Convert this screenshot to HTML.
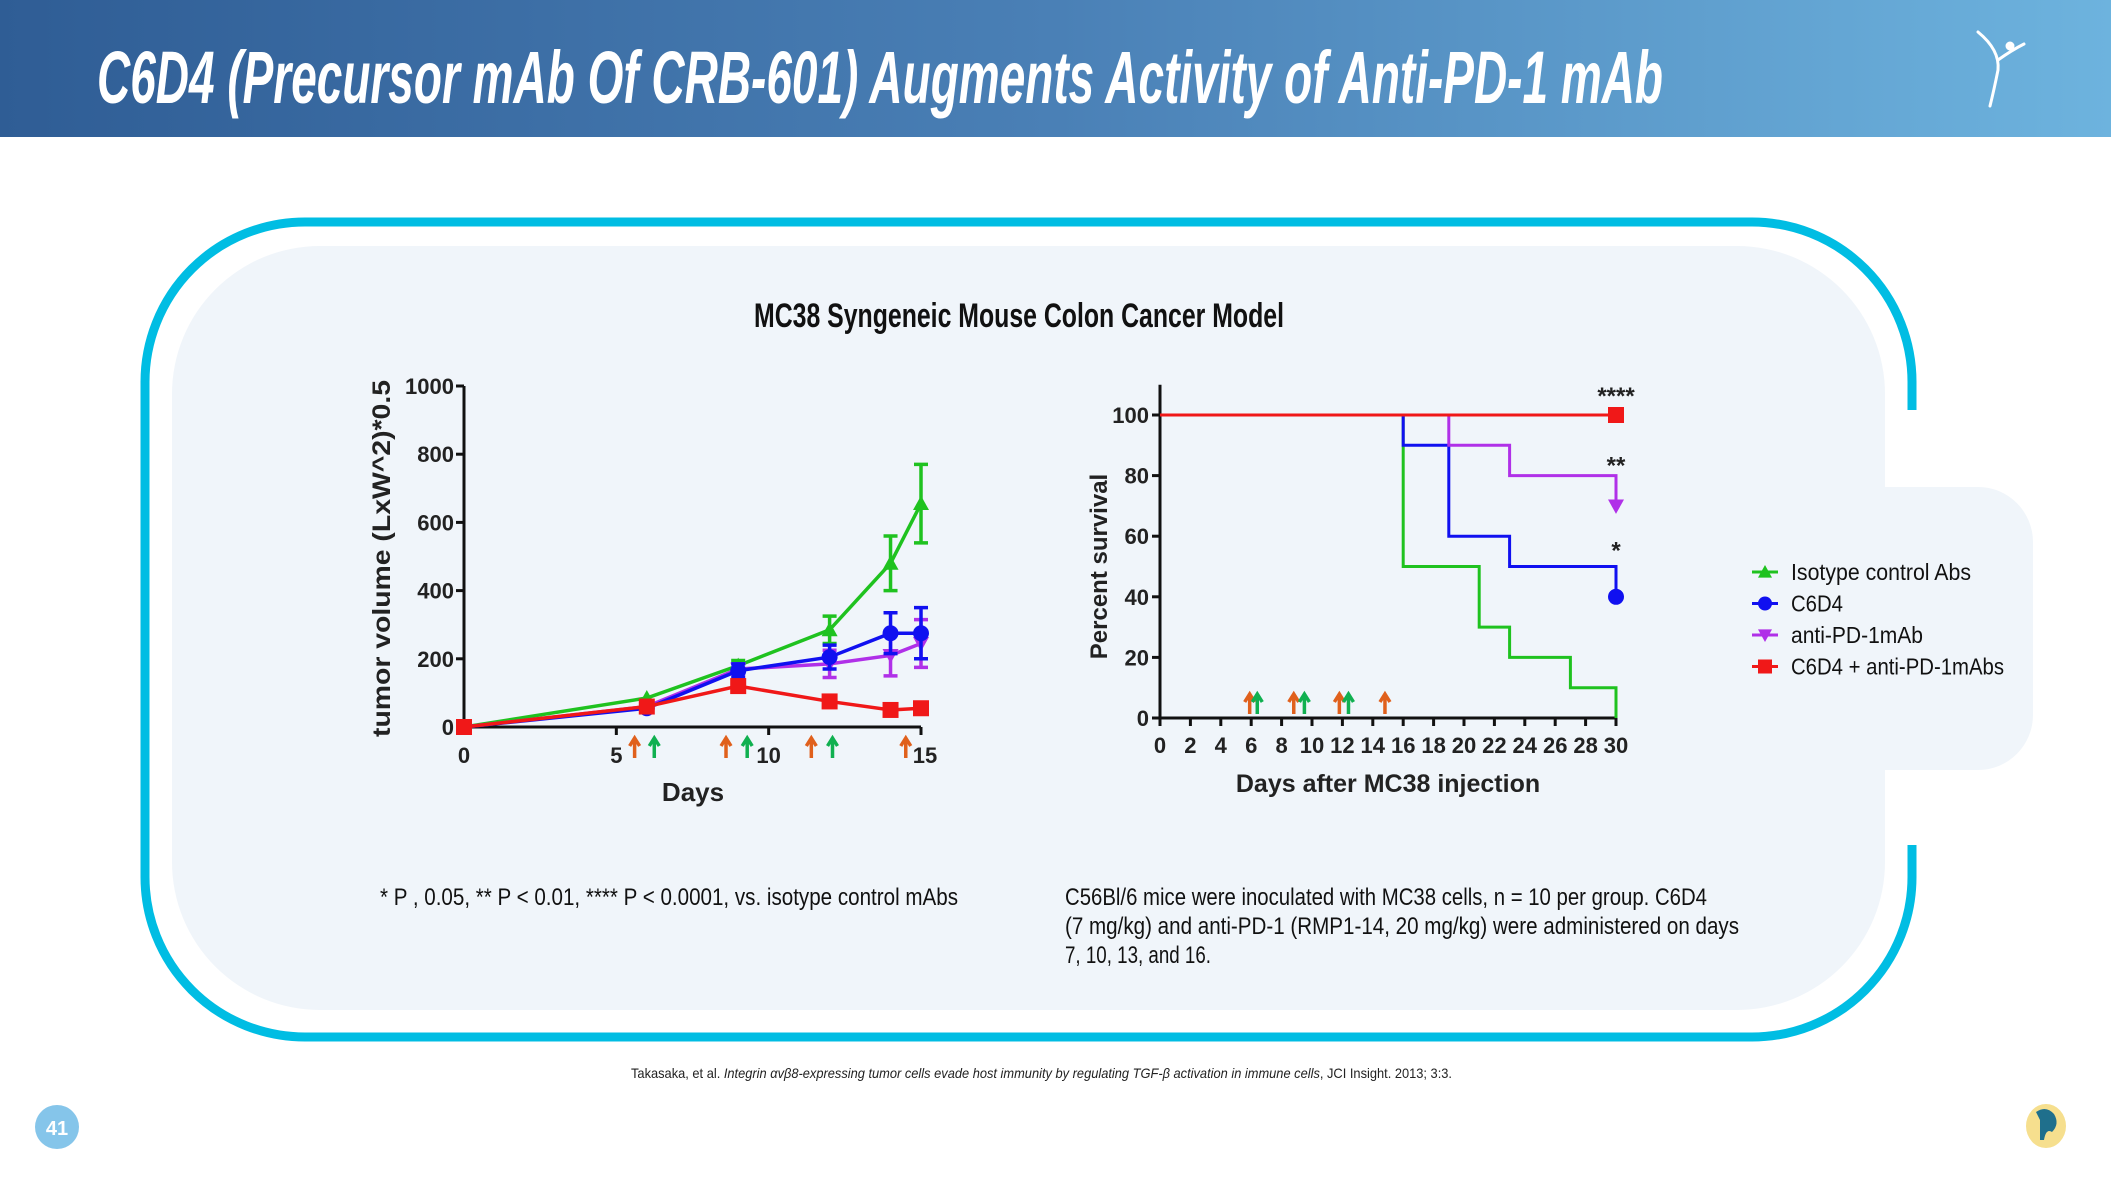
<!DOCTYPE html>
<html><head><meta charset="utf-8"><style>
html,body{margin:0;padding:0;background:#fff;}
svg{display:block;}
text{font-family:"Liberation Sans",sans-serif;}
</style></head><body>
<svg id="s" width="2111" height="1187" viewBox="0 0 2111 1187" xmlns="http://www.w3.org/2000/svg">
<defs>
<linearGradient id="hg" x1="0" x2="1" y1="0" y2="0"><stop offset="0" stop-color="#2f5d95"/><stop offset="0.5" stop-color="#4a80b6"/><stop offset="1" stop-color="#6db3de"/></linearGradient>
</defs>
<rect x="0" y="0" width="2111" height="137" fill="url(#hg)"/>
<text x="97" y="103" font-size="74" font-weight="bold" font-style="italic" fill="#fff" textLength="1566" lengthAdjust="spacingAndGlyphs">C6D4 (Precursor mAb Of CRB-601) Augments Activity of Anti-PD-1 mAb</text>
<g stroke="#fff" fill="none" stroke-width="3" stroke-linecap="round">
<path d="M1978 32 Q2000 50 1998 70 Q1994 90 1990 106"/><path d="M1998 60 Q2012 50 2024 44"/><circle cx="2010" cy="46" r="3" fill="#fff"/>
</g>
<!-- panel -->
<path d="M1912 845 V877 A160 160 0 0 1 1752 1037 H305 A160 160 0 0 1 145 877 V382 A160 160 0 0 1 305 222 H1752 A160 160 0 0 1 1912 382 V410" fill="none" stroke="#00bde3" stroke-width="9"/>
<path d="M320 246 H1737 A148 148 0 0 1 1885 394 V487 H1978 A55 55 0 0 1 2033 542 V715 A55 55 0 0 1 1978 770 H1885 V862 A148 148 0 0 1 1737 1010 H320 A148 148 0 0 1 172 862 V394 A148 148 0 0 1 320 246 Z" fill="#f0f5fa"/>
<text x="1019" y="327" font-size="34" font-weight="bold" text-anchor="middle" fill="#111" textLength="530" lengthAdjust="spacingAndGlyphs">MC38 Syngeneic Mouse Colon Cancer Model</text>
<g id="left"></g>
<g id="right"></g>
<g id="legend"></g>
<text x="380" y="905" font-size="24" fill="#111" textLength="578" lengthAdjust="spacingAndGlyphs">* P , 0.05, ** P &lt; 0.01, **** P &lt; 0.0001, vs. isotype control mAbs</text>
<g font-size="24" fill="#111">
<text x="1065" y="905" textLength="642" lengthAdjust="spacingAndGlyphs">C56Bl/6 mice were inoculated with MC38 cells, n = 10 per group. C6D4</text>
<text x="1065" y="934" textLength="674" lengthAdjust="spacingAndGlyphs">(7 mg/kg) and anti-PD-1 (RMP1-14, 20 mg/kg) were administered on days</text>
<text x="1065" y="963" textLength="146" lengthAdjust="spacingAndGlyphs">7, 10, 13, and 16.</text>
</g>
<text x="631" y="1078" font-size="14" fill="#222" textLength="821" lengthAdjust="spacingAndGlyphs">Takasaka, et al. <tspan font-style="italic">Integrin αvβ8-expressing  tumor cells evade host immunity by regulating TGF-β activation in immune cells</tspan>, JCI Insight. 2013; 3:3.</text>
<circle cx="57" cy="1127" r="22" fill="#85c5ea"/>
<text x="57" y="1135" font-size="20" font-weight="bold" fill="#fff" text-anchor="middle">41</text>
<g><ellipse cx="2046" cy="1126" rx="20" ry="22" fill="#f6df8e"/><path d="M2036 1112 Q2046 1105 2054 1114 Q2060 1124 2052 1132 Q2046 1128 2044 1140 L2040 1140 L2040 1120 Z" fill="#1f6f8c"/></g>
</svg>
<script>
// ---- left chart data ----
const lDays = [0, 6, 9, 12, 14, 15];
const lGreen = [0, 85, 180, 285, 480, 655];
const lGreenErr = [0, 10, 15, 40, 80, 115];
const lBlue = [0, 55, 165, 205, 275, 275];
const lBlueErr = [0, 8, 20, 35, 60, 75];
const lPurple = [0, 60, 170, 185, 210, 245];
const lPurpleErr = [0, 8, 15, 40, 60, 70];
const lRed = [0, 60, 120, 75, 50, 55];
const lRedErr = [0, 5, 10, 10, 8, 12];
const lXTicks = [0, 5, 10, 15];
const lYTicks = [0, 200, 400, 600, 800, 1000];
const lArrowsOrange = [5.6, 8.6, 11.4, 14.5];
const lArrowsGreen = [5.95, 9.0, 11.8];
// ---- right chart data ----
const sGreenT = [0, 16, 21, 23, 27, 30];
const sGreenV = [100, 50, 30, 20, 10, 0];
const sBlueT = [0, 16, 19, 23, 30];
const sBlueV = [100, 90, 60, 50, 40];
const sPurpleT = [0, 19, 23, 30];
const sPurpleV = [100, 90, 80, 70];
const sRedT = [0, 30];
const sRedV = [100, 100];
const rXTicks = [0,2,4,6,8,10,12,14,16,18,20,22,24,26,28,30];
const rYTicks = [0, 20, 40, 60, 80, 100];
const rArrowsOrange = [5.9, 8.8, 11.8, 14.8];
const rArrowsGreen = [6.4, 9.5, 12.4];
const sigLabels = ['****', '**', '*'];
const sigValues = [107, 84, 56];

const NS = 'http://www.w3.org/2000/svg';
function mk(tag, attrs, parent, txt) {
  const e = document.createElementNS(NS, tag);
  for (const k in attrs) e.setAttribute(k, attrs[k]);
  if (txt !== undefined) e.textContent = txt;
  parent.appendChild(e);
  return e;
}
const GREEN = '#1fc21f', BLUE = '#1010f0', PURPLE = '#b030e8', RED = '#f01818', ORANGE = '#e0601c', AGREEN = '#10b050';

function marker(g, type, x, y, c, s) {
  let e;
  if (type === 'tri') e = mk('path', {d: `M${x} ${y-s} L${x+s} ${y+s*0.8} L${x-s} ${y+s*0.8} Z`, fill: c}, g);
  else if (type === 'dtri') e = mk('path', {d: `M${x} ${y+s} L${x+s} ${y-s*0.8} L${x-s} ${y-s*0.8} Z`, fill: c}, g);
  else if (type === 'circ') e = mk('circle', {cx: x, cy: y, r: s, fill: c}, g);
  else e = mk('rect', {x: x-s, y: y-s, width: 2*s, height: 2*s, fill: c}, g);
  return e;
}
function arrow(g, x, yb, c) {
  const a = mk('path', {d: `M${x} ${yb} V${yb-18} M${x-5} ${yb-12} L${x} ${yb-20} L${x+5} ${yb-12}`, stroke: c, 'stroke-width': 3.5, fill: 'none'}, g);
  
  
}

// ---- left chart ----
const L = document.getElementById('left');
const xL = d => 464 + d * (921 - 464) / 15;
const yL = v => 727 - v * (727 - 386) / 1000;
const la = mk('path', {d: `M${xL(0)} ${yL(1000)} V${yL(0)} H${xL(15)}`, stroke: '#111', 'stroke-width': 3, fill: 'none'}, L);


lYTicks.forEach(v => {
  mk('line', {x1: xL(0)-8, x2: xL(0), y1: yL(v), y2: yL(v), stroke: '#111', 'stroke-width': 3}, L);
  const t = mk('text', {x: xL(0)-10, y: yL(v)+8, 'font-size': 22, 'font-weight': 'bold', 'text-anchor': 'end', fill: '#222'}, L, v);
  
  
});
lXTicks.forEach(d => {
  mk('line', {x1: xL(d), x2: xL(d), y1: yL(0), y2: yL(0)+8, stroke: '#111', 'stroke-width': 3}, L);
  const t = mk('text', {x: xL(d)+(d===15?4:0), y: yL(0)+36, 'font-size': 22, 'font-weight': 'bold', 'text-anchor': 'middle', fill: '#222'}, L, d);
  
  
});
const lyt = mk('text', {x: 0, y: 0, 'font-size': 25, 'font-weight': 'bold', 'text-anchor': 'middle', fill: '#222', transform: `translate(390 ${(yL(0)+yL(1000))/2+2}) rotate(-90)`, textLength: 357, lengthAdjust: 'spacingAndGlyphs'}, L, 'tumor volume (LxW^2)*0.5');


const lxt = mk('text', {x: 693, y: 801, 'font-size': 26, 'font-weight': 'bold', 'text-anchor': 'middle', fill: '#222'}, L, 'Days');


lArrowsOrange.forEach(d => arrow(L, xL(d), 758, ORANGE));
lArrowsGreen.forEach(d => arrow(L, xL(d)+9, 758, AGREEN));
const lSeries = [
  {n: 'isotype', v: lGreen, e: lGreenErr, c: GREEN, m: 'tri'},
  {n: 'anti-pd1', v: lPurple, e: lPurpleErr, c: PURPLE, m: 'dtri'},
  {n: 'c6d4', v: lBlue, e: lBlueErr, c: BLUE, m: 'circ'},
  {n: 'combo', v: lRed, e: lRedErr, c: RED, m: 'sq'}
];
lSeries.forEach(s => {
  const g = mk('g', {}, L);
  
  
  const pts = lDays.map((d, i) => `${xL(d)},${yL(s.v[i])}`).join(' ');
  const pl = mk('polyline', {points: pts, stroke: s.c, 'stroke-width': 3.5, fill: 'none'}, g);
  
  
  lDays.forEach((d, i) => {
    if (s.e[i] > 12) {
      const x = xL(d), y1 = yL(s.v[i] + s.e[i]), y2 = yL(s.v[i] - s.e[i]);
      const eb = mk('path', {d: `M${x} ${y1} V${y2} M${x-7} ${y1} H${x+7} M${x-7} ${y2} H${x+7}`, stroke: s.c, 'stroke-width': 3.5, fill: 'none'}, g);
      
      
    }
    const m = marker(g, s.m, xL(d), yL(s.v[i]), s.c, 8);
    
    
  });
});

// ---- right chart ----
const R = document.getElementById('right');
const xR = d => 1160 + d * (1616 - 1160) / 30;
const yR = p => 718 - p * (718 - 415) / 100;
const ra = mk('path', {d: `M${xR(0)} ${yR(110)} V${yR(0)} H${xR(30)}`, stroke: '#111', 'stroke-width': 3, fill: 'none'}, R);


rYTicks.forEach(v => {
  mk('line', {x1: xR(0)-8, x2: xR(0), y1: yR(v), y2: yR(v), stroke: '#111', 'stroke-width': 3}, R);
  const t = mk('text', {x: xR(0)-11, y: yR(v)+8, 'font-size': 22, 'font-weight': 'bold', 'text-anchor': 'end', fill: '#222'}, R, v);
  
  
});
rXTicks.forEach(d => {
  mk('line', {x1: xR(d), x2: xR(d), y1: yR(0), y2: yR(0)+8, stroke: '#111', 'stroke-width': 3}, R);
  const t = mk('text', {x: xR(d), y: yR(0)+35, 'font-size': 22, 'font-weight': 'bold', 'text-anchor': 'middle', fill: '#222'}, R, d);
  
  
});
const ryt = mk('text', {x: 0, y: 0, 'font-size': 24, 'font-weight': 'bold', 'text-anchor': 'middle', fill: '#222', transform: `translate(1107 ${yR(50)}) rotate(-90)`}, R, 'Percent survival');


const rxt = mk('text', {x: 1388, y: 792, 'font-size': 25, 'font-weight': 'bold', 'text-anchor': 'middle', fill: '#222'}, R, 'Days after MC38 injection');


rArrowsOrange.forEach(d => arrow(R, xR(d), 714, ORANGE));
rArrowsGreen.forEach(d => arrow(R, xR(d), 714, AGREEN));
const rSeries = [
  {n: 'isotype', t: sGreenT, v: sGreenV, c: GREEN, m: null},
  {n: 'c6d4', t: sBlueT, v: sBlueV, c: BLUE, m: 'circ'},
  {n: 'anti-pd1', t: sPurpleT, v: sPurpleV, c: PURPLE, m: 'dtri'},
  {n: 'combo', t: sRedT, v: sRedV, c: RED, m: 'sq'}
];
rSeries.forEach(s => {
  const g = mk('g', {}, R);
  
  
  let d = `M${xR(s.t[0])} ${yR(s.v[0])}`;
  for (let i = 1; i < s.t.length; i++) d += ` H${xR(s.t[i])} V${yR(s.v[i])}`;
  const p = mk('path', {d: d, stroke: s.c, 'stroke-width': 3, fill: 'none'}, g);
  
  
  if (s.m) {
    const last = s.t.length - 1;
    const m = marker(g, s.m, xR(s.t[last]), yR(s.v[last]), s.c, 8);
    
    
  }
});
sigLabels.forEach((lab, i) => {
  const t = mk('text', {x: xR(30), y: yR(sigValues[i]) + 10, 'font-size': 24, 'font-weight': 'bold', 'text-anchor': 'middle', fill: '#222'}, R, lab);
  
  
});

// ---- legend ----
const LG = document.getElementById('legend');
const legNames = ['Isotype control Abs', 'C6D4', 'anti-PD-1mAb', 'C6D4 + anti-PD-1mAbs'];
const legWidths = [180, 52, 132, 213];
const legColors = [GREEN, BLUE, PURPLE, RED];
const legMarks = ['tri', 'circ', 'dtri', 'sq'];
legNames.forEach((n, i) => {
  const y = 572 + i * 31.5;
  const g = mk('g', {}, LG);
  
  
  mk('line', {x1: 1752, x2: 1778, y1: y, y2: y, stroke: legColors[i], 'stroke-width': 3}, g);
  marker(g, legMarks[i], 1765, y, legColors[i], 7);
  mk('text', {x: 1791, y: y + 8, 'font-size': 23, fill: '#111', textLength: legWidths[i], lengthAdjust: 'spacingAndGlyphs'}, g, n);
});
</script>
</body></html>
